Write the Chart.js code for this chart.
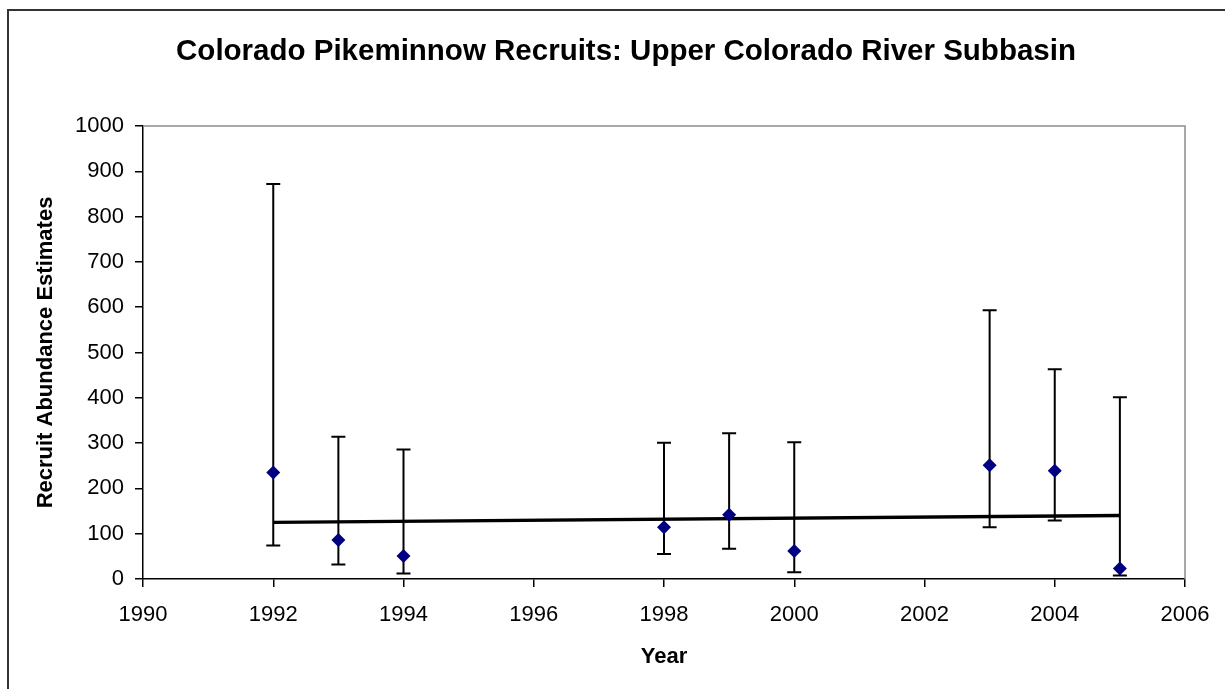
<!DOCTYPE html>
<html>
<head>
<meta charset="utf-8">
<script src="https://cdn.jsdelivr.net/npm/chart.js@4"></script>
<style>
  body { margin: 0; background: #fff; }
  canvas { display: block; }
</style>
</head>
<body>
<canvas id="myChart" width="1225" height="689"></canvas>
<script>
const chartTitle = 'Colorado Pikeminnow Recruits: Upper Colorado River Subbasin';
const years = [1992, 1993, 1994, 1998, 1999, 2000, 2003, 2004, 2005];
const estimates = [235, 86, 51, 114, 142, 62, 251, 239, 23];
const upperCI = [872, 314, 286, 301, 322, 302, 593, 463, 401];
const lowerCI = [74, 32, 12, 55, 67, 15, 114, 129, 8];
const trendYears = [1992, 2005];
const trendValues = [125, 140];

const FONT = '"Liberation Sans", Arial, sans-serif';

// frame, plot box and chart title
const framePlugin = {
    id: 'frame',
    beforeDraw(chart) {
        const ctx = chart.ctx;
        ctx.save();
        ctx.fillStyle = '#fff';
        ctx.fillRect(0, 0, chart.width, chart.height);
        ctx.strokeStyle = '#333';
        ctx.lineWidth = 2;
        ctx.strokeRect(8, 10, chart.width + 20, chart.height + 20);
        ctx.restore();
    },
    afterDraw(chart) {
        const ctx = chart.ctx;
        const a = chart.chartArea;
        ctx.save();
        ctx.strokeStyle = '#8c8c8c';
        ctx.lineWidth = 1.5;
        ctx.beginPath();
        ctx.moveTo(a.left, a.top);
        ctx.lineTo(a.right, a.top);
        ctx.lineTo(a.right, a.bottom);
        ctx.stroke();
        ctx.fillStyle = '#000';
        ctx.font = 'bold 29.5px ' + FONT;
        ctx.textAlign = 'center';
        ctx.textBaseline = 'alphabetic';
        ctx.fillText(chartTitle, 626, 60);
        ctx.restore();
    }
};

// vertical error bars with caps
const errorBarPlugin = {
    id: 'errorBars',
    beforeDatasetsDraw(chart) {
        const ctx = chart.ctx;
        const x = chart.scales.x;
        const y = chart.scales.y;
        ctx.save();
        ctx.strokeStyle = '#000';
        ctx.lineWidth = 2;
        for (let i = 0; i < years.length; i++) {
            const px = x.getPixelForValue(years[i]);
            const top = y.getPixelForValue(upperCI[i]);
            const bot = y.getPixelForValue(lowerCI[i]);
            ctx.beginPath();
            ctx.moveTo(px, top);
            ctx.lineTo(px, bot);
            ctx.moveTo(px - 7, top);
            ctx.lineTo(px + 7, top);
            ctx.moveTo(px - 7, bot);
            ctx.lineTo(px + 7, bot);
            ctx.stroke();
        }
        ctx.restore();
    }
};

const ctx = document.getElementById('myChart').getContext('2d');
new Chart(ctx, {
    type: 'scatter',
    data: {
        datasets: [{
            label: 'Trend',
            type: 'line',
            data: trendYears.map((yr, i) => ({ x: yr, y: trendValues[i] })),
            borderColor: '#000',
            borderWidth: 3.5,
            pointRadius: 0,
            fill: false,
            order: 2
        }, {
            label: 'Recruits',
            data: years.map((yr, i) => ({ x: yr, y: estimates[i] })),
            pointStyle: 'rectRot',
            pointRadius: 7,
            backgroundColor: '#000080',
            borderColor: '#000080',
            borderWidth: 0,
            order: 1
        }]
    },
    options: {
        responsive: false,
        animation: false,
        layout: { padding: { top: 126, right: 40, left: 0, bottom: 0 } },
        plugins: {
            legend: { display: false },
            tooltip: { enabled: false }
        },
        scales: {
            x: {
                type: 'linear',
                min: 1990,
                max: 2006,
                afterFit(scale) { scale.height = 110; },
                ticks: {
                    stepSize: 2,
                    padding: 15,
                    color: '#000',
                    font: { family: FONT, size: 22 },
                    callback: v => String(v)
                },
                grid: { drawOnChartArea: false, drawTicks: true, tickLength: 8, color: '#000', lineWidth: 1.5 },
                border: { color: '#000', width: 1.5 },
                title: {
                    display: true,
                    text: 'Year',
                    color: '#000',
                    font: { family: FONT, size: 22, weight: 'bold' },
                    padding: { top: 0, bottom: 19 }
                }
            },
            y: {
                min: 0,
                max: 1000,
                afterFit(scale) { scale.width = 143; },
                ticks: {
                    stepSize: 100,
                    padding: 11,
                    color: '#000',
                    font: { family: FONT, size: 22 },
                    callback: v => String(v)
                },
                grid: { drawOnChartArea: false, drawTicks: true, tickLength: 8, color: '#000', lineWidth: 1.5 },
                border: { color: '#000', width: 1.5 },
                title: {
                    display: true,
                    text: 'Recruit Abundance Estimates',
                    color: '#000',
                    font: { family: FONT, size: 22, weight: 'bold' },
                    padding: { top: 33, bottom: 0 }
                }
            }
        }
    },
    plugins: [framePlugin, errorBarPlugin]
});
</script>
</body>
</html>
